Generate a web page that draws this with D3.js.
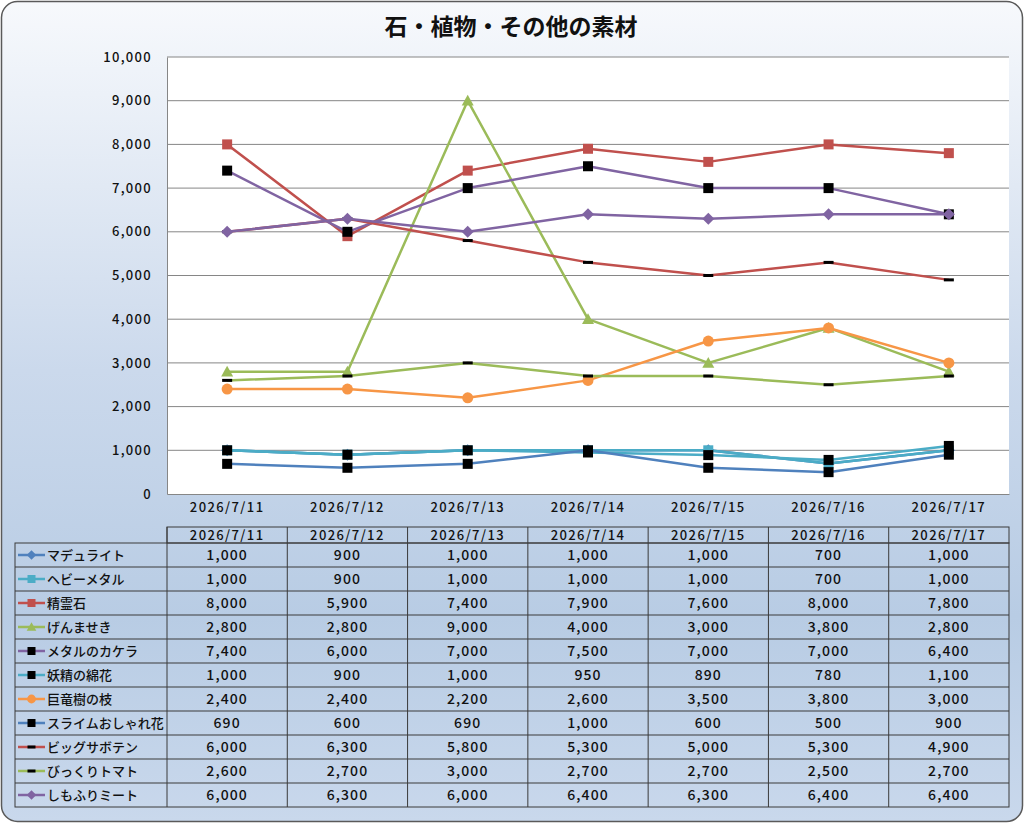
<!DOCTYPE html>
<html>
<head>
<meta charset="utf-8">
<style>
  body {
    margin: 0;
    background-color: #ffffff;
  }

  text {
    font-family: "Noto Sans CJK JP", "Noto Sans", sans-serif;
  }
</style>
  <script src="https://d3js.org/d3.v7.min.js"></script>
</head>
<body>
<script>
  const title = '石・植物・その他の素材';

  const dates = ['2026/7/11', '2026/7/12', '2026/7/13', '2026/7/14', '2026/7/15', '2026/7/16', '2026/7/17'];

  const seriesNames = [
    'マデュライト', 'ヘビーメタル', '精霊石', 'げんませき', 'メタルのカケラ', '妖精の綿花',
    '巨竜樹の枝', 'スライムおしゃれ花', 'ビッグサボテン', 'びっくりトマト', 'しもふりミート',
  ];

  const madeuraito = [1000, 900, 1000, 1000, 1000, 700, 1000];
  const heavyMetal = [1000, 900, 1000, 1000, 1000, 700, 1000];
  const seireiseki = [8000, 5900, 7400, 7900, 7600, 8000, 7800];
  const genmaseki = [2800, 2800, 9000, 4000, 3000, 3800, 2800];
  const metalKakera = [7400, 6000, 7000, 7500, 7000, 7000, 6400];
  const youseiMenka = [1000, 900, 1000, 950, 890, 780, 1100];
  const kyoryujuEda = [2400, 2400, 2200, 2600, 3500, 3800, 3000];
  const slimeHana = [690, 600, 690, 1000, 600, 500, 900];
  const bigSaboten = [6000, 6300, 5800, 5300, 5000, 5300, 4900];
  const bikkuriTomato = [2600, 2700, 3000, 2700, 2700, 2500, 2700];
  const shimofuriMeat = [6000, 6300, 6000, 6400, 6300, 6400, 6400];

  const yTicks = [0, 1000, 2000, 3000, 4000, 5000, 6000, 7000, 8000, 9000, 10000];

  const colors = {
    blue: '#4F81BD',
    cyan: '#4BACC6',
    red: '#C0504D',
    green: '#9BBB59',
    purple: '#8064A2',
    orange: '#F79646',
  };

  // line colour, marker shape, marker colour
  const styles = [
    { line: colors.blue, marker: 'diamond', fill: colors.blue },
    { line: colors.cyan, marker: 'square', fill: colors.cyan },
    { line: colors.red, marker: 'square', fill: colors.red },
    { line: colors.green, marker: 'triangle', fill: colors.green },
    { line: colors.purple, marker: 'square', fill: '#000' },
    { line: colors.cyan, marker: 'square', fill: '#000' },
    { line: colors.orange, marker: 'circle', fill: colors.orange },
    { line: colors.blue, marker: 'square', fill: '#000' },
    { line: colors.red, marker: 'dash', fill: '#000' },
    { line: colors.green, marker: 'dash', fill: '#000' },
    { line: colors.purple, marker: 'diamond', fill: colors.purple },
  ];

  const values = [
    madeuraito, heavyMetal, seireiseki, genmaseki, metalKakera, youseiMenka,
    kyoryujuEda, slimeHana, bigSaboten, bikkuriTomato, shimofuriMeat,
  ];

  const series = seriesNames.map((name, i) => ({ name, values: values[i], style: styles[i] }));

  const width = 1024;
  const height = 823;
  const plot = { left: 167, right: 1009, top: 57, bottom: 494 };

  const svg = d3.select('body')
    .append('svg')
    .attr('width', width)
    .attr('height', height);

  const defs = svg.append('defs');
  const grad = defs.append('linearGradient')
    .attr('id', 'bg')
    .attr('x1', 0).attr('y1', 0).attr('x2', 0).attr('y2', 1);
  grad.append('stop').attr('offset', '0%').attr('stop-color', '#f7f9fc');
  grad.append('stop').attr('offset', '45%').attr('stop-color', '#cbd9ec');
  grad.append('stop').attr('offset', '75%').attr('stop-color', '#b8cce4');
  grad.append('stop').attr('offset', '100%').attr('stop-color', '#c9d8ec');

  svg.append('rect')
    .attr('x', 1.5).attr('y', 1.5)
    .attr('width', width - 3).attr('height', height - 3)
    .attr('rx', 16)
    .attr('fill', 'url(#bg)')
    .attr('stroke', '#5a5a5a')
    .attr('stroke-width', 1.5);

  svg.append('text')
    .attr('x', 511)
    .attr('y', 35)
    .attr('text-anchor', 'middle')
    .attr('font-size', 23)
    .attr('font-weight', 'bold')
    .attr('fill', '#111')
    .text(title);

  const x = d3.scaleBand()
    .domain(dates)
    .range([plot.left, plot.right]);

  const cx = (d) => x(d) + x.bandwidth() / 2;

  const y = d3.scaleLinear()
    .domain([0, 10000])
    .range([plot.bottom, plot.top]);

  // plot area
  svg.append('rect')
    .attr('x', plot.left).attr('y', plot.top)
    .attr('width', plot.right - plot.left)
    .attr('height', plot.bottom - plot.top)
    .attr('fill', '#fff');

  svg.append('g')
    .selectAll('line')
    .data(yTicks.slice(1))
    .join('line')
    .attr('x1', plot.left).attr('x2', plot.right)
    .attr('y1', (d) => y(d)).attr('y2', (d) => y(d))
    .attr('stroke', '#868686')
    .attr('stroke-width', 1);

  const yAxis = svg.append('g')
    .attr('transform', `translate(${plot.left},0)`)
    .call(d3.axisLeft(y).tickValues(yTicks).tickFormat(d3.format(',')).tickSize(0).tickPadding(15));
  yAxis.select('.domain').attr('stroke', '#868686');
  yAxis.selectAll('text')
    .attr('font-size', 13)
    .attr('font-weight', 500)
    .attr('letter-spacing', 1.3)
    .attr('fill', '#111')
    .style('font-family', '"Noto Sans CJK JP", sans-serif');

  const xAxis = svg.append('g')
    .attr('transform', `translate(0,${plot.bottom})`)
    .call(d3.axisBottom(x).tickSize(0).tickPadding(9));
  xAxis.select('.domain').attr('stroke', '#868686');
  xAxis.selectAll('text')
    .attr('font-size', 13)
    .attr('font-weight', 500)
    .attr('letter-spacing', 1.4)
    .attr('fill', '#111')
    .style('font-family', '"Noto Sans CJK JP", sans-serif');

  const drawMarker = (g, shape, fill, s) => {
    if (shape === 'square') {
      g.append('rect').attr('x', -s / 2).attr('y', -s / 2).attr('width', s).attr('height', s).attr('fill', fill);
    } else if (shape === 'diamond') {
      const r = s * 0.6;
      g.append('path').attr('d', `M0,${-r}L${r},0L0,${r}L${-r},0Z`).attr('fill', fill);
    } else if (shape === 'triangle') {
      const r = s * 0.6;
      g.append('path').attr('d', `M0,${-r}L${r},${r * 0.8}L${-r},${r * 0.8}Z`).attr('fill', fill);
    } else if (shape === 'circle') {
      g.append('circle').attr('r', s * 0.55).attr('fill', fill);
    } else if (shape === 'dash') {
      g.append('rect').attr('x', -s / 2).attr('y', -1.5).attr('width', s).attr('height', 3).attr('fill', fill);
    }
  };

  const line = d3.line()
    .x((d, i) => cx(dates[i]))
    .y((d) => y(d));

  const seriesG = svg.append('g');
  series.forEach((s) => {
    const g = seriesG.append('g');
    g.append('path')
      .attr('d', line(s.values))
      .attr('fill', 'none')
      .attr('stroke', s.style.line)
      .attr('stroke-width', 2.5)
      .attr('stroke-linejoin', 'round');
    s.values.forEach((v, i) => {
      const m = g.append('g').attr('transform', `translate(${cx(dates[i])},${y(v)})`);
      drawMarker(m, s.style.marker, s.style.fill, 10);
    });
  });

  // data table
  const table = { headTop: 527, top: 543, rowH: 24, legendLeft: 15 };
  const tableBottom = table.top + series.length * table.rowH;
  const gridColor = '#3a3a3a';
  const tg = svg.append('g');

  // header row
  tg.append('rect')
    .attr('x', plot.left).attr('y', table.headTop)
    .attr('width', plot.right - plot.left).attr('height', table.top - table.headTop)
    .attr('fill', 'none').attr('stroke', gridColor);
  tg.selectAll('.head')
    .data(dates)
    .join('text')
    .attr('x', (d) => cx(d))
    .attr('y', table.headTop + 13)
    .attr('text-anchor', 'middle')
    .attr('font-size', 13)
    .attr('font-weight', 500)
    .attr('letter-spacing', 1.4)
    .attr('fill', '#111')
    .text((d) => d);

  // body
  tg.append('rect')
    .attr('x', table.legendLeft).attr('y', table.top)
    .attr('width', plot.right - table.legendLeft).attr('height', tableBottom - table.top)
    .attr('fill', 'none').attr('stroke', gridColor);

  tg.selectAll('.hline')
    .data(d3.range(1, series.length))
    .join('line')
    .attr('x1', table.legendLeft).attr('x2', plot.right)
    .attr('y1', (d) => table.top + d * table.rowH)
    .attr('y2', (d) => table.top + d * table.rowH)
    .attr('stroke', gridColor)
    .attr('stroke-width', 1.2);

  tg.selectAll('.vline')
    .data(dates)
    .join('line')
    .attr('x1', (d) => x(d)).attr('x2', (d) => x(d))
    .attr('y1', table.headTop).attr('y2', tableBottom)
    .attr('stroke', gridColor);

  const fmt = d3.format(',');
  series.forEach((s, r) => {
    const rowMid = table.top + r * table.rowH + table.rowH / 2;
    const key = tg.append('g').attr('transform', `translate(0,${rowMid})`);
    key.append('line')
      .attr('x1', 18).attr('x2', 45)
      .attr('stroke', s.style.line).attr('stroke-width', 2.5);
    const km = key.append('g').attr('transform', 'translate(31.5,0)');
    drawMarker(km, s.style.marker, s.style.fill, 8);
    key.append('text')
      .attr('x', 47)
      .attr('y', 5)
      .attr('font-size', 13)
      .attr('font-weight', 500)
      .attr('fill', '#111')
      .text(s.name);

    tg.append('g')
      .selectAll('text')
      .data(s.values)
      .join('text')
      .attr('x', (d, i) => cx(dates[i]))
      .attr('y', rowMid + 5)
      .attr('text-anchor', 'middle')
      .attr('font-size', 14)
      .attr('font-weight', 500)
      .attr('letter-spacing', 1.1)
      .attr('fill', '#111')
      .text((d) => fmt(d));
  });
</script>
</body>
</html>
